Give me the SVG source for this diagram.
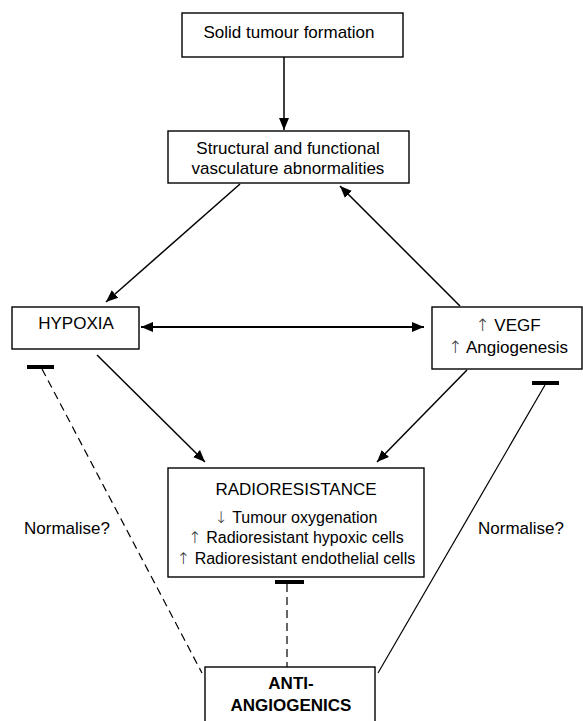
<svg xmlns="http://www.w3.org/2000/svg" width="583" height="721" viewBox="0 0 583 721">
<style>
.box{fill:#fff;stroke:#000;stroke-width:1.4}
text{font-family:"Liberation Sans",Arial,sans-serif;font-size:17px;fill:#000;text-anchor:middle}
.sm{font-size:16px}
.b{font-weight:bold}
.ar{font-family:"DejaVu Sans",sans-serif;fill:#333;font-weight:200}
.arr{stroke:#000;stroke-width:1.5;fill:none}
.dash{stroke:#000;stroke-width:1.2;fill:none;stroke-dasharray:8 5}
.bar{stroke:#000;stroke-width:4}
</style>
<defs>
<marker id="ah" markerUnits="userSpaceOnUse" markerWidth="14" markerHeight="12" refX="12" refY="5" orient="auto-start-reverse" viewBox="0 0 14 10">
<path d="M0,0 L12,5 L0,10 Z" fill="#000"/>
</marker>
</defs>
<g id="connectors">
<line class="arr" x1="284" y1="57" x2="284" y2="130" marker-end="url(#ah)"/>
<line class="arr" x1="240" y1="184" x2="106" y2="302" marker-end="url(#ah)"/>
<line class="arr" x1="460" y1="306" x2="340" y2="186" marker-end="url(#ah)"/>
<line class="arr" style="stroke-width:2" x1="141" y1="327" x2="424" y2="327" marker-start="url(#ah)" marker-end="url(#ah)"/>
<line class="arr" x1="97" y1="355" x2="205" y2="462" marker-end="url(#ah)"/>
<line class="arr" x1="467" y1="370" x2="377" y2="462" marker-end="url(#ah)"/>
<line class="bar" x1="275" y1="582" x2="304" y2="582"/>
<line class="dash" x1="287" y1="584" x2="287" y2="667"/>
<line class="bar" x1="27" y1="367" x2="54" y2="367"/>
<line class="dash" x1="42" y1="369" x2="202" y2="673"/>
<line class="bar" x1="532" y1="383" x2="559" y2="383"/>
<line class="arr" style="stroke-width:1.2" x1="545" y1="385" x2="378" y2="673"/>
</g>
<g id="solid-tumour">
<rect class="box" x="182" y="13" width="221" height="44"/>
<text x="289" y="38">Solid tumour formation</text>
</g>
<g id="structural">
<rect class="box" x="168" y="131" width="241" height="52"/>
<text x="288" y="154">Structural and functional</text>
<text x="288" y="174">vasculature abnormalities</text>
</g>
<g id="hypoxia">
<rect class="box" x="12" y="307" width="127" height="42"/>
<text x="76" y="329">HYPOXIA</text>
</g>
<g id="vegf">
<rect class="box" x="432" y="307" width="150" height="62"/>
<text x="508" y="331"><tspan class="ar">↑</tspan> VEGF</text>
<text x="508" y="353"><tspan class="ar">↑</tspan> Angiogenesis</text>
</g>
<g id="radioresistance">
<rect class="box" x="168" y="468" width="256" height="109"/>
<text x="296" y="495">RADIORESISTANCE</text>
<text class="sm" x="296" y="523"><tspan class="ar">↓</tspan> Tumour oxygenation</text>
<text class="sm" x="296" y="543"><tspan class="ar">↑</tspan> Radioresistant hypoxic cells</text>
<text class="sm" x="296" y="564"><tspan class="ar">↑</tspan> Radioresistant endothelial cells</text>
</g>
<g id="anti-angiogenics">
<rect class="box" x="205" y="667" width="170" height="70"/>
<text class="b" x="291" y="689">ANTI-</text>
<text class="b" x="291" y="711">ANGIOGENICS</text>
</g>
<g id="labels">
<text x="67" y="534">Normalise?</text>
<text x="521" y="534">Normalise?</text>
</g>
</svg>
